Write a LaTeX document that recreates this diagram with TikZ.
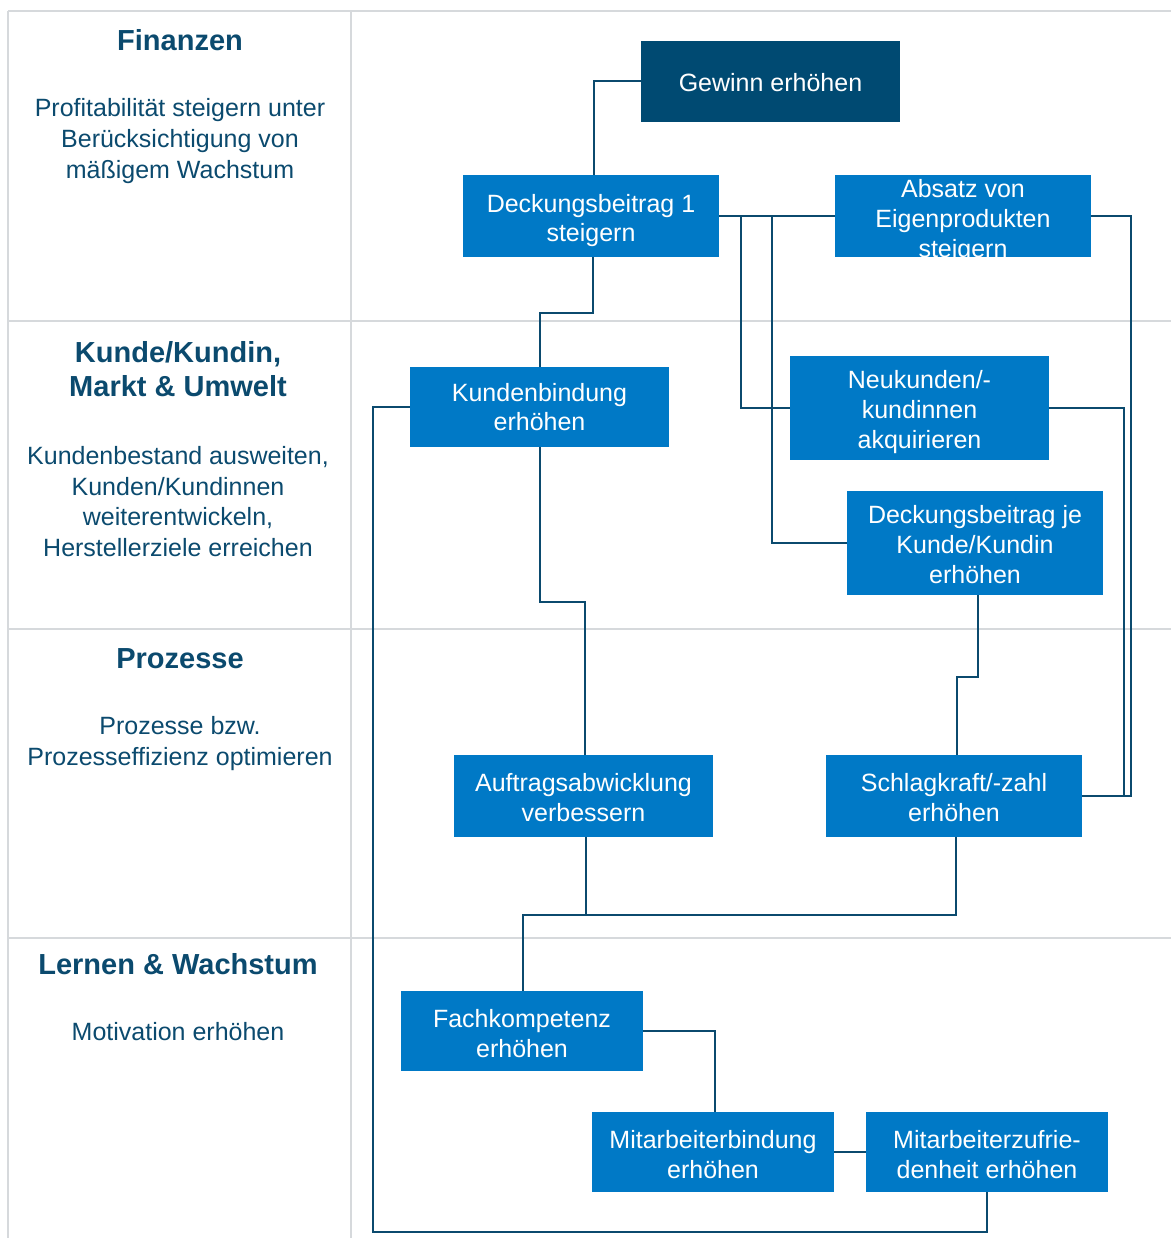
\documentclass[tikz,border=0pt]{standalone}
\usepackage{fontspec}
\setmainfont{Liberation Sans}
\definecolor{boxblue}{HTML}{0079C6}
\definecolor{navy}{HTML}{0B4A6E}
\definecolor{darkbox}{HTML}{004A72}
\definecolor{gridgray}{HTML}{D6D9DC}
\tikzset{
  gridline/.style={draw=gridgray, line width=2pt},
  link/.style={draw=navy, line width=2pt},
  goal/.style={fill=boxblue, inner sep=0pt},
  goaltext/.style={inner sep=0pt, align=center, text=white,
    font=\fontsize{25}{29.7}\selectfont},
  heading/.style={align=center, text=navy,
    font=\fontsize{29}{34}\selectfont\bfseries, inner sep=0pt},
  note/.style={align=center, text=navy,
    font=\fontsize{25}{30.7}\selectfont, inner sep=0pt}
}
\begin{document}
\begin{tikzpicture}[x=1pt, y=-1pt]
\useasboundingbox (0,0) rectangle (1171,1238);

% table grid
\draw[gridline] (8,11) -- (1171,11);
\draw[gridline] (8,11) -- (8,1238);
\draw[gridline] (351,11) -- (351,1238);
\draw[gridline] (8,321) -- (1171,321);
\draw[gridline] (8,629) -- (1171,629);
\draw[gridline] (8,938) -- (1171,938);

% perspective column
\node[heading, anchor=base] (hfin) at (180,51) {Finanzen};
\node[note] (tfin) at (180,141) {Profitabilität steigern unter\\Berücksichtigung von\\mäßigem Wachstum};
\node[heading] (hkun) at (178,369) {Kunde/Kundin,\\Markt \& Umwelt};
\node[note] (tkun) at (178,501.5) {Kundenbestand ausweiten,\\Kunden/Kundinnen\\weiterentwickeln,\\Herstellerziele erreichen};
\node[heading, anchor=base] (hpro) at (180,668) {Prozesse};
\node[note] (tpro) at (180,743.5) {Prozesse bzw.\\Prozesseffizienz optimieren};
\node[heading, anchor=base] (hler) at (178,974) {Lernen \& Wachstum};
\node[note, anchor=base] (tler) at (178,1040) {Motivation erhöhen};

% strategic objectives: boxes
\node[goal, fill=darkbox, minimum width=259pt, minimum height=81pt] (gewinn) at (770.5,81.5) {};
\node[goal, minimum width=256pt, minimum height=82pt] (db1) at (591,216) {};
\node[goal, minimum width=256pt, minimum height=82pt] (absatz) at (963,216) {};
\node[goal, minimum width=259pt, minimum height=80pt] (kb) at (539.5,407) {};
\node[goal, minimum width=259pt, minimum height=104pt] (neu) at (919.5,408) {};
\node[goal, minimum width=256pt, minimum height=104pt] (dbk) at (975,543) {};
\node[goal, minimum width=259pt, minimum height=82pt] (auf) at (583.5,796) {};
\node[goal, minimum width=256pt, minimum height=82pt] (schlag) at (954,796) {};
\node[goal, minimum width=242pt, minimum height=80pt] (fach) at (522,1031) {};
\node[goal, minimum width=242pt, minimum height=80pt] (mbind) at (713,1152) {};
\node[goal, minimum width=242pt, minimum height=80pt] (mzuf) at (987,1152) {};

% strategic objectives: labels
\node[goaltext] (gewinn-t) at ([yshift=-1pt]gewinn.center) {Gewinn erhöhen};
\node[goaltext] (db1-t) at ([yshift=-4.5pt]db1.center) {Deckungsbeitrag 1\\steigern};
\node[goaltext] (absatz-t) at ([yshift=-5pt]absatz.center) {Absatz von\\Eigenprodukten\\steigern};
\node[goaltext] (kb-t) at ([yshift=0pt]kb.center) {Kundenbindung\\erhöhen};
\node[goaltext] (neu-t) at ([yshift=-4pt]neu.center) {Neukunden/-\\kundinnen\\akquirieren};
\node[goaltext] (dbk-t) at ([yshift=-1.5pt]dbk.center) {Deckungsbeitrag je\\Kunde/Kundin\\erhöhen};
\node[goaltext] (auf-t) at ([yshift=-1.5pt]auf.center) {Auftragsabwicklung\\verbessern};
\node[goaltext] (schlag-t) at ([yshift=-1.5pt]schlag.center) {Schlagkraft/-zahl\\erhöhen};
\node[goaltext] (fach-t) at ([yshift=-2.5pt]fach.center) {Fachkompetenz\\erhöhen};
\node[goaltext] (mbind-t) at ([yshift=-2.5pt]mbind.center) {Mitarbeiterbindung\\erhöhen};
\node[goaltext] (mzuf-t) at ([yshift=-2.5pt]mzuf.center) {Mitarbeiterzufrie-\\denheit erhöhen};

% cause-and-effect links
\draw[link] (gewinn.west) -| ([xshift=3pt]db1.north);
\draw[link] ([xshift=2pt]db1.south) -- ++(0,56) -| (kb.north);
\draw[link] (db1.east) -- (absatz.west);
\draw[link] (db1.east) -- ++(22,0) |- (neu.west);
\draw[link] (db1.east) -- ++(53,0) |- (dbk.west);
\draw[link] (absatz.east) -- ++(40,0) |- (schlag.east);
\draw[link] (neu.east) -- ++(75,0) |- (schlag.east);
\draw[link] (kb.south) -- ++(0,155) -| ([xshift=1.5pt]auf.north);
\draw[link] ([xshift=3pt]dbk.south) -- ++(0,82) -| ([xshift=3pt]schlag.north);
\draw[link] ([xshift=2pt]schlag.south) -- ++(0,78) -| ([xshift=1pt]fach.north);
\draw[link] ([xshift=2pt]auf.south) -- ++(0,78);
\draw[link] (fach.east) -| ([xshift=2pt]mbind.north);
\draw[link] (mbind.east) -- (mzuf.west);
\draw[link] (mzuf.south) -- ++(0,40) -| ([xshift=-37pt]kb.west) -- (kb.west);
\end{tikzpicture}
\end{document}
